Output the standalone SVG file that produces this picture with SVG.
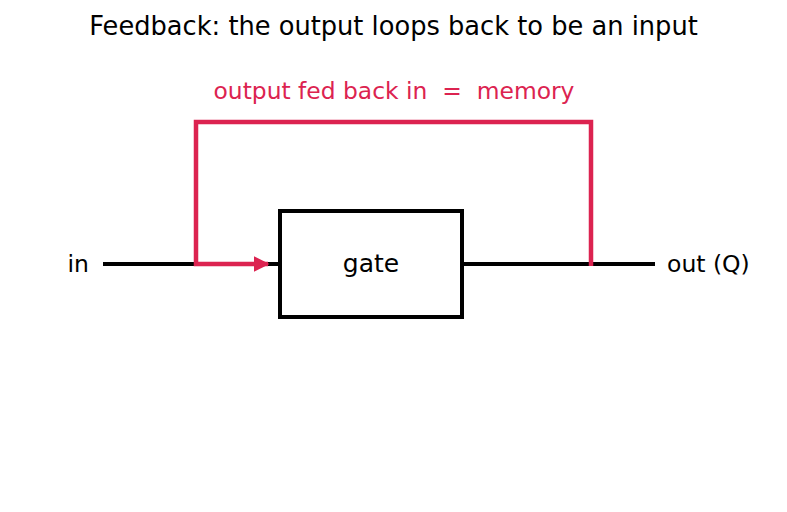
<svg xmlns="http://www.w3.org/2000/svg" width="787" height="512" viewBox="0 0 787 512">
<style>
text{font-family:"DejaVu Sans","Liberation Sans",sans-serif;fill:#000}
.wire{stroke:#000;stroke-width:4;fill:none}
.fb{stroke:#dc2350;stroke-width:4.5;fill:none;stroke-linejoin:miter}
</style>
<defs>
<marker id="ah" viewBox="0 0 10 10" refX="9" refY="5" markerWidth="3.5" markerHeight="3.5" orient="auto" markerUnits="strokeWidth">
<path d="M0,0 L10,5 L0,10 Z" fill="#dc2350"/>
</marker>
</defs>
<rect width="787" height="512" fill="#fff"/>
<text x="393.5" y="35" font-size="25.7" text-anchor="middle">Feedback: the output loops back to be an input</text>
<g id="connectors">
<line class="wire" x1="103" y1="264" x2="280" y2="264"/>
<line class="wire" x1="462" y1="264" x2="655" y2="264"/>
<path class="fb" d="M591,266 V122 H196 V264 H268" marker-end="url(#ah)"/>
<text x="394" y="99" font-size="23.4" text-anchor="middle" xml:space="preserve" style="fill:#dc2350;white-space:pre">output fed back in  =  memory</text>
</g>
<g id="in">
<text x="89" y="272" font-size="23.5" text-anchor="end">in</text>
</g>
<g id="gate">
<rect x="280" y="211" width="182" height="106" fill="#fff" stroke="#000" stroke-width="4"/>
<text x="371" y="272" font-size="25" text-anchor="middle">gate</text>
</g>
<g id="out">
<text x="667" y="272" font-size="23.5">out (Q)</text>
</g>
</svg>
